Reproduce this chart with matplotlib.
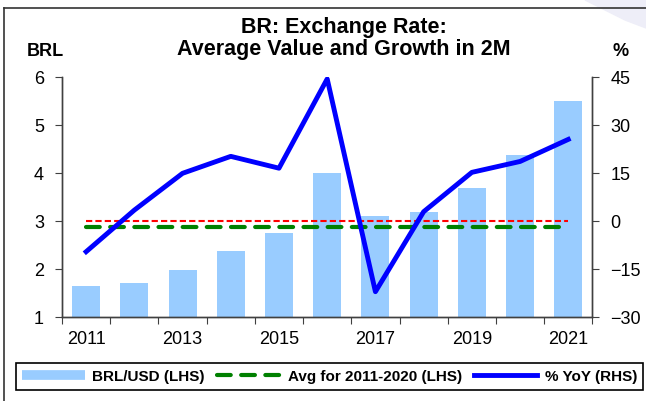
import matplotlib.pyplot as plt
from matplotlib.lines import Line2D
from matplotlib.patches import Polygon

plt.rcParams["font.family"] = ["Liberation Sans", "DejaVu Sans"]

# BRL/USD average in the first two months of each year
years = list(range(2011, 2022))
brl_usd = [1.65, 1.72, 1.98, 2.38, 2.76, 4.01, 3.11, 3.20, 3.70, 4.38, 5.50]
yoy_pct = [-9.5, 3.5, 15.0, 20.3, 16.6, 44.5, -22.0, 3.0, 15.3, 18.7, 25.6]
label_years = years[::2]

# average for 2011-2020
avg_2011_2020 = sum(brl_usd[:10]) / 10

bar_color = "#99CCFF"
spine_color = "#404040"

fig = plt.figure(figsize=(6.46, 4.01), dpi=100)
ax = fig.add_axes([0.096, 0.2087, 0.821, 0.5985])
ax2 = ax.twinx()

x = list(range(len(years)))
ax.bar(x, brl_usd, width=0.58, color=bar_color, zorder=1)
ax.plot([0, len(years) - 1], [avg_2011_2020] * 2, color="#008000", lw=3,
        dashes=(3.3, 2.5), dash_capstyle="round", zorder=3)
ax2.plot([0, len(years) - 1], [0, 0], color="red", lw=1.5, dashes=(3, 1.5), zorder=2)
ax2.plot(x, yoy_pct, color="#0000FF", lw=3.5, zorder=4)

ax.set_xlim(-0.5, len(years) - 0.5)
ax.set_ylim(1, 6)
ax2.set_ylim(-30, 45)
ax.set_yticks(range(1, 7))
ax2.set_yticks(range(-30, 46, 15))

# tick marks between categories, labels every other year
ax.set_xticks([i - 0.5 for i in range(len(years) + 1)])
ax.set_xticklabels([])
ax.set_xticks([years.index(y) for y in label_years], minor=True)
ax.set_xticklabels([str(y) for y in label_years], minor=True)
ax.tick_params(axis="x", which="major", length=5, color=spine_color, direction="out")
ax.tick_params(axis="x", which="minor", length=0, pad=10, labelsize=13)
ax.tick_params(axis="y", length=5, color=spine_color, pad=8, labelsize=13)
ax2.tick_params(axis="y", length=5, color=spine_color, pad=8, labelsize=13)

for a in (ax, ax2):
    a.spines["top"].set_visible(False)
    for s in ("left", "right", "bottom"):
        a.spines[s].set_color(spine_color)
        a.spines[s].set_linewidth(1)

fig.text(0.532, 1 - 28 / 401, "BR: Exchange Rate:", ha="center", va="center",
         fontsize=15.5, fontweight="bold")
fig.text(0.532, 1 - 50 / 401, "Average Value and Growth in 2M", ha="center", va="center",
         fontsize=15.5, fontweight="bold")
fig.text(45 / 646, 1 - 51 / 401, "BRL", ha="center", va="center", fontsize=13, fontweight="bold")
fig.text(621 / 646, 1 - 51 / 401, "%", ha="center", va="center", fontsize=13, fontweight="bold")

handles = [
    Line2D([], [], color=bar_color, lw=7, solid_capstyle="butt"),
    Line2D([], [], color="#008000", lw=3, dashes=(3.3, 2.5), dash_capstyle="round"),
    Line2D([], [], color="#0000FF", lw=3.5),
]
labels = ["BRL/USD (LHS)", "Avg for 2011-2020 (LHS)", "% YoY (RHS)"]
leg = fig.legend(handles, labels, loc="center", ncol=3, mode="expand",
                 bbox_to_anchor=(16 / 646, 1 - 393 / 401, 627 / 646, 33 / 401),
                 prop={"weight": "bold", "size": 11}, handlelength=4.1,
                 handletextpad=0.5, columnspacing=0.6, borderaxespad=0,
                 fancybox=False, edgecolor="black", framealpha=1)
leg.get_frame().set_linewidth(1.2)

# frame around the chart and the faint decoration in the corner
fig.add_artist(Line2D([4 / 646, 4 / 646], [0, 1 - 8 / 401], color="#333333", lw=1.2,
                      transform=fig.transFigure))
fig.add_artist(Line2D([4 / 646, 1], [1 - 8 / 401, 1 - 8 / 401], color="#333333", lw=1.2,
                      transform=fig.transFigure))
fig.add_artist(Polygon([(585 / 646, 1), (1, 1), (1, 1 - 28 / 401), (625 / 646, 1 - 20 / 401)],
                       closed=True, color="#EEEEF8", transform=fig.transFigure, zorder=0))

fig.savefig("out.png", dpi=100)
